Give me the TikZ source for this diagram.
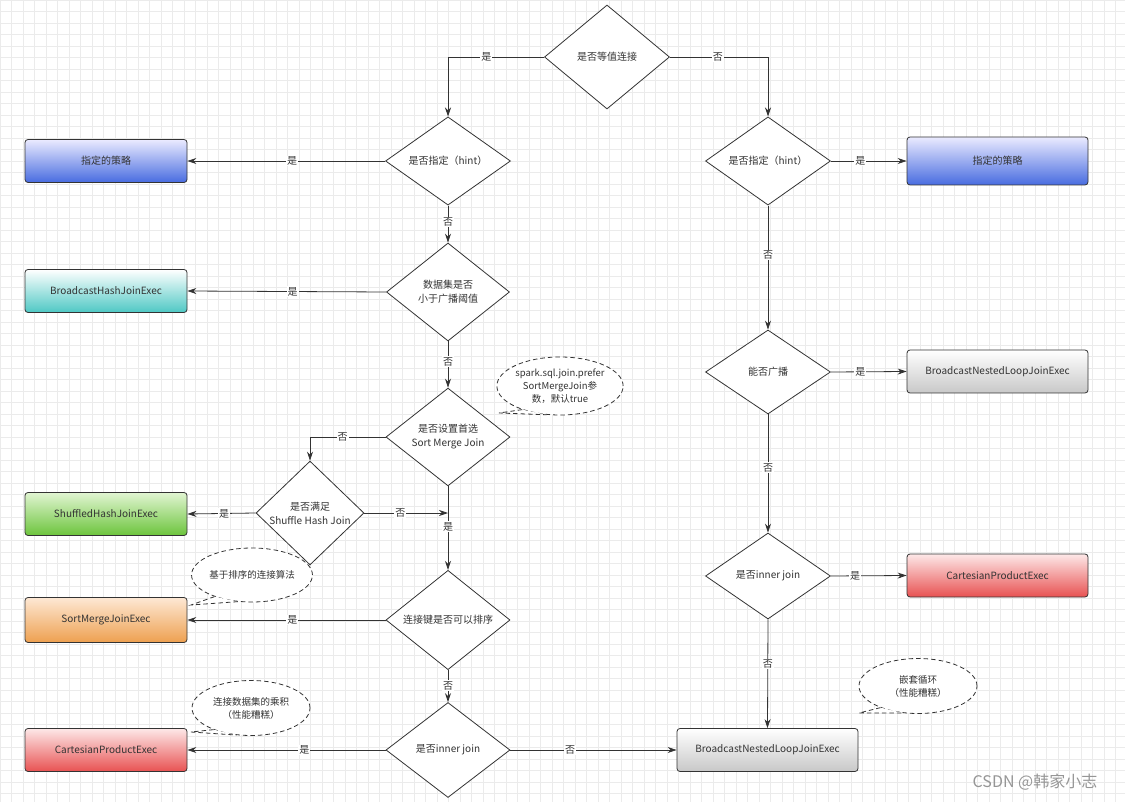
\documentclass[tikz,border=0pt]{standalone}
\usepackage{fontspec}
\setmainfont{Noto Sans CJK SC}
\usetikzlibrary{shapes.geometric,arrows.meta}
\definecolor{ln}{HTML}{333333}
\definecolor{gridc}{HTML}{EBEBEB}
\tikzset{
  dec/.style={diamond,draw=ln,line width=0.8pt,fill=white,inner sep=0pt,align=center,font=\fontsize{10}{14}\selectfont,text=ln},
  res/.style={rectangle,rounded corners=3pt,draw=ln,line width=0.8pt,minimum width=162pt,minimum height=43pt,inner sep=0pt,font=\fontsize{10}{12}\selectfont,text=ln},
  blueb/.style={res,top color=white!92!blue,bottom color={rgb,255:red,72;green,108;blue,224}},
  cyanb/.style={res,top color=white,bottom color={rgb,255:red,78;green,200;blue,196}},
  greenb/.style={res,top color={rgb,255:red,225;green,245;blue,210},bottom color={rgb,255:red,108;green,196;blue,60}},
  orangeb/.style={res,top color={rgb,255:red,253;green,232;blue,212},bottom color={rgb,255:red,238;green,160;blue,80}},
  redb/.style={res,top color={rgb,255:red,253;green,232;blue,232},bottom color={rgb,255:red,232;green,82;blue,82}},
  grayb/.style={res,top color=white,bottom color={rgb,255:red,200;green,200;blue,200}},
  conn/.style={draw=ln,line width=0.8pt,-{Stealth[length=9pt,width=6pt]}},
  lbl/.style={fill=white,inner sep=1pt,font=\fontsize{10}{12}\selectfont,text=ln},
  callout/.style={ellipse,draw=ln,dash pattern=on 4.5pt off 3pt,line width=0.8pt,fill=white,inner sep=0pt,align=center,font=\fontsize{9.5}{13}\selectfont,text=ln},
  tail/.style={draw=ln,dash pattern=on 4.5pt off 3pt,line width=0.8pt}
}
\begin{document}
\begin{tikzpicture}[x=1pt,y=-1pt]
\useasboundingbox (0,0) rectangle (1125,802);
\fill[white] (0,0) rectangle (1125,802);
\draw[gridc,line width=0.6pt,step=11.5pt] (0,0) grid (1125,802);

% top
\node[dec,minimum width=125pt,minimum height=104pt] (top) at (607,57) {是否等值连接};

% left column
\node[dec,minimum width=125pt,minimum height=86pt] (l1) at (448,161) {是否指定（hint）};
\node[dec,minimum width=123pt,minimum height=98pt] (l2) at (448,292) {数据集是否\\小于广播阈值};
\node[dec,minimum width=124pt,minimum height=97pt] (l3) at (448,437) {是否设置首选\\Sort Merge Join};
\node[dec,minimum width=108pt,minimum height=95pt] (l4) at (310,513) {是否满足\\Shuffle Hash Join};
\node[dec,minimum width=124pt,minimum height=95pt] (l5) at (448,620) {连接键是否可以排序};
\node[dec,minimum width=124pt,minimum height=95pt] (l6) at (448,750) {是否inner join};

\node[blueb] (b1) at (106,161) {指定的策略};
\node[cyanb] (b2) at (106,291) {BroadcastHashJoinExec};
\node[greenb] (b3) at (106,514) {ShuffledHashJoinExec};
\node[orangeb,minimum height=45pt] (b4) at (106,620) {SortMergeJoinExec};
\node[redb] (b5) at (106,750) {CartesianProductExec};

% right column
\node[dec,minimum width=125pt,minimum height=86pt] (r1) at (768,161) {是否指定（hint）};
\node[dec,minimum width=125pt,minimum height=84pt] (r2) at (768,372) {能否广播};
\node[dec,minimum width=125pt,minimum height=86pt] (r3) at (768,576) {是否inner join};

\node[blueb,minimum width=181pt,minimum height=48pt] (rb1) at (997.5,161) {指定的策略};
\node[grayb,minimum width=181pt] (rb2) at (997.5,371.5) {BroadcastNestedLoopJoinExec};
\node[redb,minimum width=181pt] (rb3) at (997.5,575.5) {CartesianProductExec};
\node[grayb,minimum width=181pt] (rb4) at (767.5,750) {BroadcastNestedLoopJoinExec};

\coordinate (j) at (448,513);

% connectors
\draw[conn] (top.west) -| node[lbl,pos=0.3] {是} (l1.north);
\draw[conn] (top.east) -| node[lbl,pos=0.245] {否} (r1.north);

\draw[conn] (l1.west) -- node[lbl,pos=0.47] {是} (b1.east);
\draw[conn] (l1.south) -- node[lbl,pos=0.44] {否} (l2.north);
\draw[conn] (l2.west) -- node[lbl,pos=0.47] {是} (b2.east);
\draw[conn] (l2.south) -- node[lbl,pos=0.44] {否} (l3.north);
\draw[conn] (l3.west) -| node[lbl,pos=0.285] {否} (l4.north);
\draw[conn] (l4.west) -- node[lbl,pos=0.46] {是} (b3.east);
\draw[conn] (l4.east) -- node[lbl,pos=0.43] {否} (j);
\draw[conn] (l3.south) -- node[lbl,pos=0.48] {是} (l5.north);
\draw[conn] (l5.west) -- node[lbl,pos=0.47] {是} (b4.east);
\draw[conn] (l5.south) -- node[lbl,pos=0.49] {否} (l6.north);
\draw[conn] (l6.west) -- node[lbl,pos=0.41] {是} (b5.east);
\draw[conn] (l6.east) -- node[lbl,pos=0.36] {否} (rb4.west);

\draw[conn] (r1.east) -- node[lbl,pos=0.39] {是} (rb1.west);
\draw[conn] (r1.south) -- node[lbl,pos=0.4] {否} (r2.north);
\draw[conn] (r2.east) -- node[lbl,pos=0.39] {是} (rb2.west);
\draw[conn] (r2.south) -- node[lbl,pos=0.45] {否} (r3.north);
\draw[conn] (r3.east) -- node[lbl,pos=0.32] {是} (rb3.west);
\draw[conn] (r3.south) -- node[lbl,pos=0.41] {否} (rb4.north);

% callouts
\node[callout,minimum width=116pt,minimum height=58pt] (c1) at (560,386) {spark.sql.join.prefer\\SortMergeJoin参\\数，默认true};
\coordinate (t1) at (499,413);
\fill[white] (c1.212) -- (t1) -- (c1.245) -- cycle;
\draw[tail] (c1.212) -- (t1) -- (c1.245);

\node[callout,minimum width=118pt,minimum height=54pt] (c2) at (252,575) {基于排序的连接算法};
\coordinate (t2) at (191,605);
\fill[white] (c2.210) -- (t2) -- (c2.242) -- cycle;
\draw[tail] (c2.210) -- (t2) -- (c2.242);

\node[callout,minimum width=118pt,minimum height=55pt] (c3) at (251,708) {连接数据集的乘积\\（性能糟糕）};
\coordinate (t3) at (191,732);
\fill[white] (c3.210) -- (t3) -- (c3.242) -- cycle;
\draw[tail] (c3.210) -- (t3) -- (c3.242);

\node[callout,minimum width=118pt,minimum height=55pt] (c4) at (918,686) {嵌套循环\\（性能糟糕）};
\coordinate (t4) at (859,713);
\fill[white] (c4.210) -- (t4) -- (c4.242) -- cycle;
\draw[tail] (c4.210) -- (t4) -- (c4.242);

% watermark
\node[font=\fontsize{16}{18}\selectfont,text={rgb,255:red,150;green,150;blue,150}] (wm) at (1035,782) {CSDN @韩家小志};
\end{tikzpicture}
\end{document}
